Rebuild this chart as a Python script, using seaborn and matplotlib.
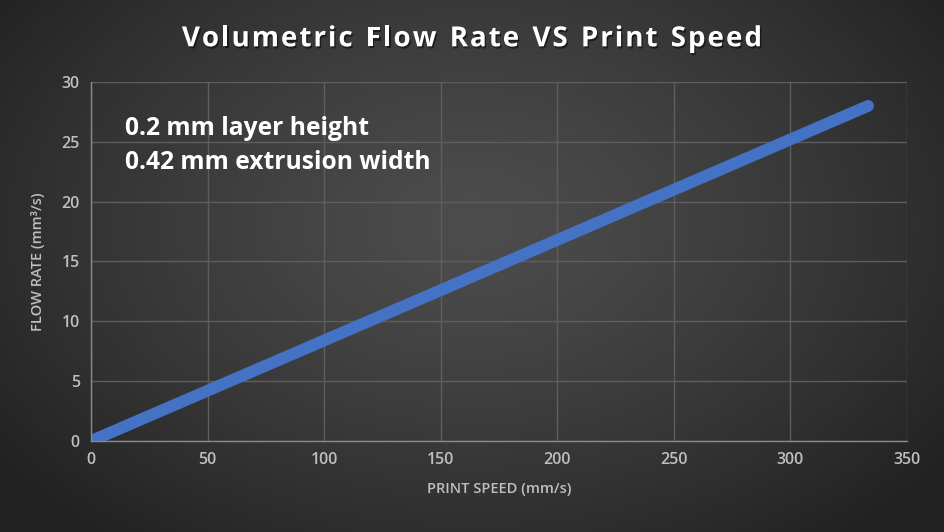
import numpy as np
import pandas as pd
import matplotlib
matplotlib.use("Agg")
import matplotlib.pyplot as plt
import matplotlib.patheffects as pe
import seaborn as sns

print_speed = [0, 50, 100, 150, 200, 250, 300, 333.3]
flow_rate = [0, 4.2, 8.4, 12.6, 16.8, 21.0, 25.2, 28.0]
x_ticks = [0, 50, 100, 150, 200, 250, 300, 350]
y_ticks = [0, 5, 10, 15, 20, 25, 30]
title = "Volumetric Flow Rate VS Print Speed"
note_lines = ["0.2 mm layer height", "0.42 mm extrusion width"]
x_label = "PRINT SPEED (mm/s)"
y_label = "FLOW RATE (mm³/s)"

df = pd.DataFrame({"speed": print_speed, "flow": flow_rate})

sns.set_theme(style="dark")
plt.rcParams['font.family'] = ['Open Sans', 'DejaVu Sans']

fig = plt.figure(figsize=(9.44, 5.32), dpi=100)

# radial gradient background
bg = fig.add_axes([0, 0, 1, 1], zorder=-10)
h, w = 532, 944
yy, xx = np.mgrid[0:h, 0:w]
cx, cy = 0.5 * w, 0.42 * h
r = np.sqrt(((xx - cx) / (0.62 * w)) ** 2 + ((yy - cy) / (0.75 * h)) ** 2)
r = np.clip(r, 0, 1)
val = 0.30 - 0.165 * r ** 1.3
img = np.dstack([val, val, val])
bg.imshow(img, aspect="auto", extent=[0, 1, 0, 1], origin="upper")
bg.set_axis_off()

ax = fig.add_axes([0.0964, 0.1711, 0.8644, 0.6748])
ax.patch.set_alpha(0)

sns.lineplot(data=df, x="speed", y="flow", ax=ax, color="#4472C4", linewidth=8.5,
             solid_capstyle="round",
             path_effects=[pe.SimplePatchShadow(offset=(2, -3), shadow_rgbFace="black", alpha=0.45), pe.Normal()])

ax.set_xlim(0, 350)
ax.set_ylim(0, 30)
ax.set_xticks(x_ticks)
ax.set_yticks(y_ticks)
ax.grid(True, color="#5e5e5e", linewidth=1.0)
for s in ["top", "right"]:
    ax.spines[s].set_visible(False)
for s in ["left", "bottom"]:
    ax.spines[s].set_visible(True)
    ax.spines[s].set_color("#8a8a8a")
    ax.spines[s].set_linewidth(1.0)
ax.tick_params(axis="both", colors="#bfbfbf", labelsize=11.5, length=0, pad=8)
for lab in ax.get_xticklabels() + ax.get_yticklabels():
    lab.set_fontweight("semibold")
    lab.set_color("#bfbfbf")

ax.set_xlabel(x_label, color="#bfbfbf", fontsize=10.5, labelpad=10, fontweight="semibold")
ax.set_ylabel(y_label, color="#bfbfbf", fontsize=10.5, labelpad=12, fontweight="semibold")

# letter-spaced title
renderer = fig.canvas.get_renderer()
title_kw = dict(color="white", fontsize=20, fontweight="bold", va="center", ha="left",
                path_effects=[pe.withSimplePatchShadow(offset=(1, -1.5), shadow_rgbFace="black", alpha=0.5)])
spacing_px = 2.0
widths = []
for ch in title:
    t = fig.text(0, 0, ch if ch != " " else "a", **title_kw)
    bb = t.get_window_extent(renderer)
    widths.append(bb.width * (0.55 if ch == " " else 1.0))
    t.remove()
total = sum(widths) + spacing_px * (len(title) - 1)
xpos = (w - total) / 2.0
for ch, cw in zip(title, widths):
    if ch != " ":
        fig.text(xpos / w, 0.927, ch, **title_kw)
    xpos += cw + spacing_px

ax.text(0.042, 0.87, note_lines[0], transform=ax.transAxes, color="white",
        fontsize=17.7, fontweight="bold", va="center", ha="left")
ax.text(0.042, 0.777, note_lines[1], transform=ax.transAxes, color="white",
        fontsize=17.7, fontweight="bold", va="center", ha="left")

fig.savefig("out.png", dpi=100)
